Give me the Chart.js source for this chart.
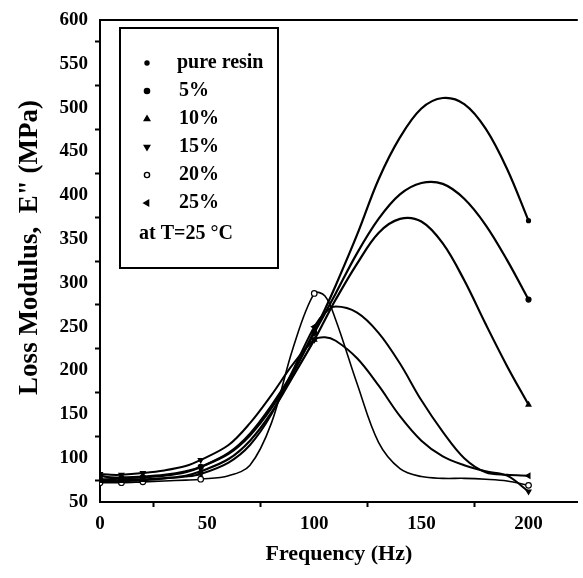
<!DOCTYPE html>
<html>
<head>
<meta charset="utf-8">
<script src="https://cdn.jsdelivr.net/npm/chart.js@4"></script>
<style>
    html, body { margin: 0; padding: 0; background: #fff; overflow: hidden; }
    canvas { display: block; }
</style>
</head>
<body>
<canvas id="lossChart" width="583" height="578"></canvas>
<script>
const freq = [0, 5, 10, 20, 30, 40, 47, 60, 70, 80, 90, 100, 105, 110, 120, 130, 140, 150, 160, 170, 180, 190, 200];

// loss modulus E" (MPa) for each filler content
const pureResin = [80, 78, 78, 79, 81, 85, 90, 105, 126, 157, 197, 245, 270, 297, 355, 418, 466, 499, 511, 504, 476, 430, 371];
const pct5      = [76, 76, 77, 78, 80, 84, 90, 106, 128, 160, 198, 243, 265, 288, 334, 373, 401, 414, 413, 396, 366, 326, 281];
const pct10     = [74, 74, 74, 75, 77, 80, 85, 99, 120, 152, 193, 235, 258, 281, 322, 357, 373, 370, 345, 303, 253, 205, 161];
const pct15     = [82, 81, 81, 83, 86, 91, 98, 115, 140, 172, 207, 235, 238, 234, 214, 183, 148, 120, 102, 92, 85, 80, 62];
const pct20     = [72, 72, 72, 73, 74, 75, 76, 80, 92, 140, 225, 288, 285, 258, 185, 118, 88, 79, 77, 77, 76, 74, 69];
const pct25     = [75, 75, 75, 76, 77, 79, 82, 95, 115, 150, 200, 250, 266, 273, 266, 243, 208, 166, 130, 100, 84, 81, 80];

// frequencies that carry a measured point marker
const markedFreq = [0, 10, 20, 47, 100, 200];

const legendLabels = ["pure resin", "5%", "10%", "15%", "20%", "25%"];
const noteText = "at T=25 \u00B0C";

const FONT = "'Liberation Serif', 'Times New Roman', serif";

function makeSet(label, values, style, rotation, radius, fill, width) {
    return {
        label,
        data: freq.map((f, i) => ({ x: f, y: values[i] })),
        borderColor: "#000",
        borderWidth: width,
        backgroundColor: fill,
        pointBorderColor: "#000",
        pointBackgroundColor: fill,
        pointStyle: style,
        pointRotation: rotation,
        pointBorderWidth: 1.2,
        pointRadius: freq.map(f => markedFreq.includes(f) ? radius : 0),
        tension: 0.35,
        fill: false
    };
}

const datasets = [
    makeSet(legendLabels[0], pureResin, "circle", 0, 2, "#000", 2.2),
    makeSet(legendLabels[1], pct5, "circle", 0, 2.5, "#000", 2.2),
    makeSet(legendLabels[2], pct10, "triangle", 0, 2.8, "#000", 2.2),
    makeSet(legendLabels[3], pct15, "triangle", 180, 2.8, "#000", 2),
    makeSet(legendLabels[4], pct20, "circle", 0, 2.8, "#fff", 1.6),
    makeSet(legendLabels[5], pct25, "triangle", -90, 2.8, "#000", 2)
];

// boxed legend in the upper left + the top frame line
const frameAndLegend = {
    id: "frameAndLegend",
    afterDraw(chart) {
        const ctx = chart.ctx;
        const area = chart.chartArea;
        ctx.save();
        ctx.strokeStyle = "#000";
        ctx.lineWidth = 2;
        ctx.beginPath();
        ctx.moveTo(area.left, area.top);
        ctx.lineTo(area.right, area.top);
        ctx.stroke();

        ctx.fillStyle = "#fff";
        ctx.fillRect(120, 28, 158, 240);
        ctx.strokeRect(120, 28, 158, 240);

        const rowY = [63, 91, 119, 147, 175, 203];
        ctx.font = "bold 20px " + FONT;
        ctx.textBaseline = "middle";
        chart.data.datasets.forEach((ds, i) => {
            const y = rowY[i];
            const x = 147;
            ctx.fillStyle = ds.pointBackgroundColor;
            ctx.strokeStyle = "#000";
            ctx.lineWidth = 1.4;
            ctx.beginPath();
            if (ds.pointStyle === "circle") {
                ctx.arc(x, y, i === 0 ? 2 : 2.6, 0, Math.PI * 2);
            } else {
                const r = 3.2;
                const a = (ds.pointRotation - 90) * Math.PI / 180;
                for (let k = 0; k < 3; k++) {
                    const t = a + k * 2 * Math.PI / 3;
                    const px = x + r * Math.cos(t);
                    const py = y + r * Math.sin(t);
                    if (k === 0) ctx.moveTo(px, py); else ctx.lineTo(px, py);
                }
                ctx.closePath();
            }
            ctx.fill();
            ctx.stroke();
            ctx.fillStyle = "#000";
            ctx.fillText(ds.label, i === 0 ? 177 : 179, y);
        });
        ctx.fillText(noteText, 139, 234);
        ctx.restore();
    }
};

new Chart(document.getElementById("lossChart"), {
    type: "line",
    data: { datasets },
    options: {
        responsive: false,
        animation: false,
        devicePixelRatio: 1,
        layout: { padding: { top: 20, right: 0, left: 0, bottom: 0 } },
        plugins: {
            legend: { display: false },
            tooltip: { enabled: false }
        },
        scales: {
            x: {
                type: "linear",
                min: 0,
                max: 223,
                afterFit: scale => { scale.height = 76; },
                grid: {
                    drawOnChartArea: false,
                    tickLength: 5,
                    tickWidth: 2,
                    tickColor: c => (c.tick && c.tick.value % 50 !== 0) ? "#000" : "rgba(0,0,0,0)"
                },
                border: { color: "#000", width: 2 },
                ticks: {
                    stepSize: 25,
                    includeBounds: false,
                    autoSkip: false,
                    maxRotation: 0,
                    padding: 6,
                    color: "#000",
                    font: { family: FONT, size: 19, weight: "bold" },
                    callback: v => v % 50 === 0 ? v : ""
                },
                title: {
                    display: true,
                    text: "Frequency (Hz)",
                    color: "#000",
                    font: { family: FONT, size: 22, weight: "bold" },
                    padding: { top: 0, bottom: 10 }
                }
            },
            y: {
                min: 50,
                max: 600,
                afterFit: scale => { scale.width = 100; },
                grid: {
                    drawOnChartArea: false,
                    tickLength: 5,
                    tickWidth: 2,
                    tickColor: c => (c.tick && c.tick.value % 50 !== 0) ? "#000" : "rgba(0,0,0,0)"
                },
                border: { color: "#000", width: 2 },
                ticks: {
                    stepSize: 25,
                    autoSkip: false,
                    padding: 7,
                    color: "#000",
                    font: { family: FONT, size: 19, weight: "bold" },
                    callback: v => v % 50 === 0 ? v : ""
                },
                title: {
                    display: true,
                    text: "    Loss Modulus,  E\" (MPa)",
                    color: "#000",
                    font: { family: FONT, size: 27, weight: "bold" },
                    padding: { top: 14, bottom: 0 }
                }
            }
        }
    },
    plugins: [frameAndLegend]
});
</script>
</body>
</html>
